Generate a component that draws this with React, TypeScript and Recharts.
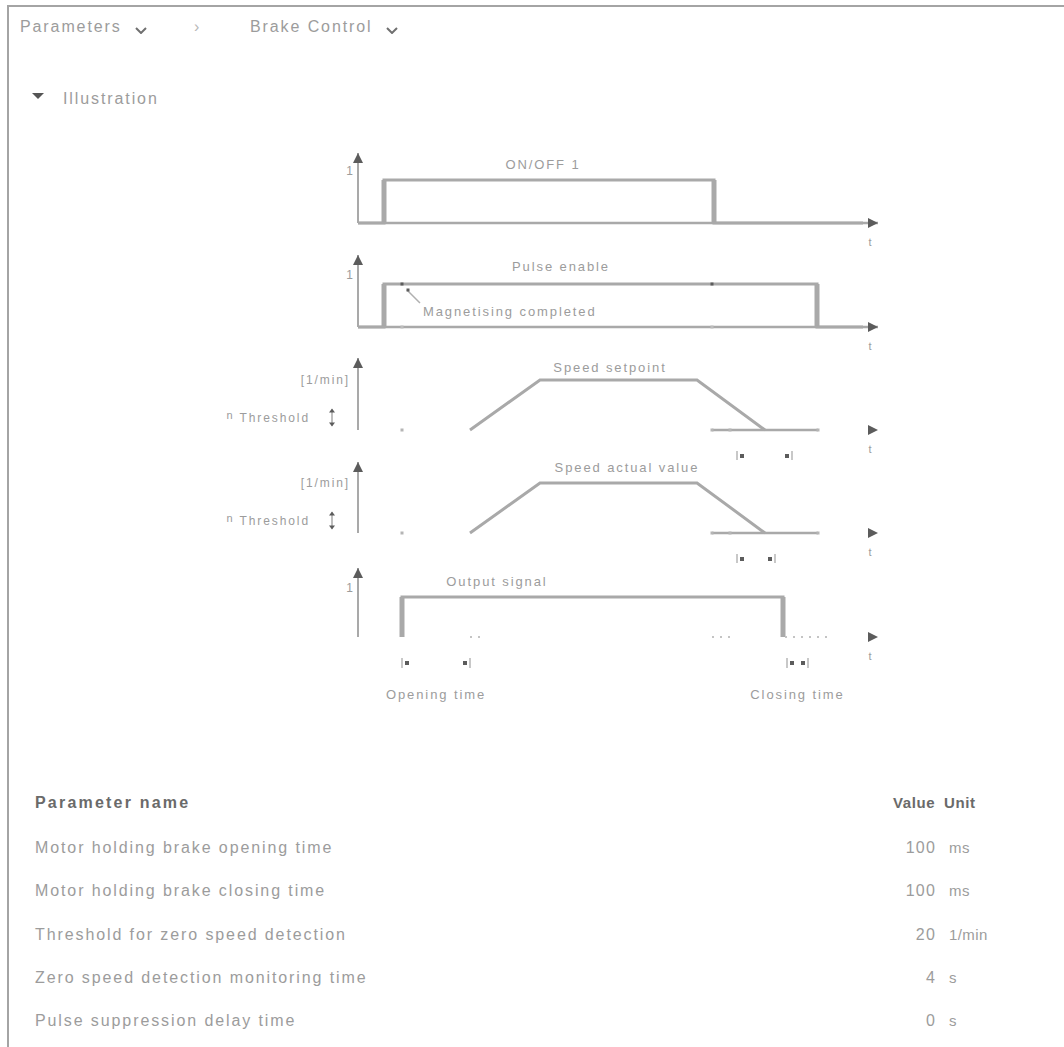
import React from 'react';
import { LineChart, Line, XAxis, YAxis, ReferenceDot, ReferenceLine } from 'recharts';

const GRAY = '#a9a9a9';
const DARK = '#5c5c5c';
const TEXT = '#9c9c9c';
const FONT = '"Liberation Sans", Arial, sans-serif';

// time runs across all five signals on one shared scale
const timeDomain = [0, 520];
const timeTicks = [512];

const onOff1 = [
    { t: 0, v: 0 },
    { t: 26, v: 1 },
    { t: 356, v: 0 },
    { t: 505, v: 0 },
];
const pulseEnable = [
    { t: 0, v: 0 },
    { t: 26, v: 1 },
    { t: 459, v: 0 },
    { t: 505, v: 0 },
];
const speedSetpoint = [
    { t: 112, v: 0 },
    { t: 182, v: 1 },
    { t: 339, v: 1 },
    { t: 407, v: 0 },
];
const speedActual = [
    { t: 112, v: 0 },
    { t: 182, v: 1 },
    { t: 339, v: 1 },
    { t: 407, v: 0 },
];
const outputSignal = [
    { t: 44, v: 0 },
    { t: 44, v: 1 },
    { t: 425, v: 0 },
];

const magnetisingDone = 44;
const holdMarks = [44, 354];
const speedThreshold = 0.25;
const thresholdWindow = [354, 460];
const setpointZeroSpan = [379, 434];
const actualZeroSpan = [379, 417];
const openingTime = [44, 112];
const closingTime = [429, 450];
const outputIdleSpans = [
    [112, 122],
    [354, 372],
    [427, 472],
];

const paramNames = [
    'Motor holding brake opening time',
    'Motor holding brake closing time',
    'Threshold for zero speed detection',
    'Zero speed detection monitoring time',
    'Pulse suppression delay time',
];
const paramValues = ['100', '100', '20', '4', '0'];
const paramUnits = ['ms', 'ms', '1/min', 's', 's'];

type Pt = { t: number; v: number };
type Cfg = { axisTop: number; baseline: number; high: number };

// where the level changes in a stepAfter series
const edgesOf = (data: Pt[]) =>
    data.slice(1).filter((p, i) => p.v !== data[i].v).map((p) => p.t);

const vAt = (c: Cfg, y: number) => (c.baseline - y) / (c.baseline - c.high);

const upArrow = (p: any) => (
    <polygon points={`${p.cx - 5},${p.cy + 10} ${p.cx},${p.cy} ${p.cx + 5},${p.cy + 10}`} fill={DARK} />
);
const rightArrow = (p: any) => (
    <polygon points={`${p.cx - 10},${p.cy - 5} ${p.cx},${p.cy} ${p.cx - 10},${p.cy + 5}`} fill={DARK} />
);
const textAt = (value: string, anchor = 'middle', size = 13) => (p: any) => (
    <text x={p.cx} y={p.cy} textAnchor={anchor} dominantBaseline="central" fontSize={size}
        letterSpacing={1.9} fill={TEXT} fontFamily={FONT}>
        {value}
    </text>
);
const smallDot = (fill: string) => (p: any) => (
    <rect x={p.cx - 1.5} y={p.cy - 1.5} width={3} height={3} fill={fill} />
);
const dimEnd = (dir: number) => (p: any) => (
    <g>
        <rect x={p.cx - 1} y={p.cy - 5} width={2} height={10} fill="#c8c8c8" />
        <rect x={p.cx + dir * 5 - 2} y={p.cy - 2} width={4} height={4} fill={DARK} />
    </g>
);

const yTick = (labels: Record<string, string>) => (p: any) => {
    const label = labels[String(p.payload.value)];
    if (label === 'n Threshold') {
        const ax = p.x - 18;
        return (
            <g>
                <text x={p.x - 40} y={p.y} textAnchor="end" dominantBaseline="central" fontSize={12}
                    letterSpacing={1.9} fill={TEXT} fontFamily={FONT}>
                    <tspan fontSize={11} dy={-3}>n</tspan>
                    <tspan dy={3}> Threshold</tspan>
                </text>
                <line x1={ax} y1={p.y - 8} x2={ax} y2={p.y + 8} stroke={GRAY} strokeWidth={1.5} />
                <polygon points={`${ax - 3},${p.y - 5} ${ax},${p.y - 9} ${ax + 3},${p.y - 5}`} fill={DARK} />
                <polygon points={`${ax - 3},${p.y + 5} ${ax},${p.y + 9} ${ax + 3},${p.y + 5}`} fill={DARK} />
            </g>
        );
    }
    const one = label === '1';
    return (
        <text x={p.x + (one ? 3 : 0)} y={p.y + (one ? -9 : 0)} textAnchor="end" dominantBaseline="central"
            fontSize={12} letterSpacing={one ? 0 : 1.9} fill={TEXT} fontFamily={FONT}>
            {label}
        </text>
    );
};

function timingChart(
    key: string,
    c: Cfg,
    data: Pt[],
    curve: 'stepAfter' | 'linear',
    showAxis: boolean,
    yLabels: Record<string, string>,
    extra: React.ReactNode[],
    bottom = 0,
) {
    const plotH = c.baseline - c.axisTop;
    const yMax = vAt(c, c.axisTop);
    return (
        <div key={key} style={{ position: 'absolute', left: 200, top: c.axisTop - 10 }}>
            <LineChart width={700} height={10 + plotH + 30 + bottom} data={data}
                margin={{ top: 10, right: 22, bottom, left: 98 }}>
                <XAxis type="number" dataKey="t" domain={timeDomain} ticks={timeTicks}
                    tickFormatter={() => 't'} tickLine={false} tickMargin={9} height={30}
                    tick={{ fill: TEXT, fontSize: 11, fontFamily: FONT }}
                    axisLine={showAxis ? { stroke: GRAY, strokeWidth: 2.5 } : false} />
                <YAxis type="number" domain={[0, yMax]} ticks={Object.keys(yLabels).map(Number)}
                    tick={yTick(yLabels)} tickLine={false} width={60}
                    axisLine={{ stroke: GRAY, strokeWidth: 2 }} />
                <Line type={curve} dataKey="v" stroke={GRAY} strokeWidth={3} dot={false}
                    isAnimationActive={false} />
                {curve === 'stepAfter' &&
                    edgesOf(data).map((t) => (
                        <ReferenceLine key={`e${t}`} segment={[{ x: t, y: 0 }, { x: t, y: 1 }]}
                            stroke={GRAY} strokeWidth={5} ifOverflow="visible" />
                    ))}
                {extra}
                <ReferenceDot x={0} y={yMax} r={1} shape={upArrow} ifOverflow="visible" />
                <ReferenceDot x={timeDomain[1]} y={0} r={1} shape={rightArrow} ifOverflow="visible" />
            </LineChart>
        </div>
    );
}

const c1 = { axisTop: 153, baseline: 223, high: 180 };
const c2 = { axisTop: 255, baseline: 327, high: 284 };
const c3 = { axisTop: 358, baseline: 430, high: 380 };
const c4 = { axisTop: 462, baseline: 533, high: 483 };
const c5 = { axisTop: 568, baseline: 637, high: 597 };

const dimSpan = (key: string, c: Cfg, span: number[]) => [
    <ReferenceDot key={`${key}a`} x={span[0]} y={vAt(c, c.baseline + 26)} r={1} shape={dimEnd(1)} ifOverflow="visible" />,
    <ReferenceDot key={`${key}b`} x={span[1]} y={vAt(c, c.baseline + 26)} r={1} shape={dimEnd(-1)} ifOverflow="visible" />,
];

const thresholdLine = (key: string) => [
    <ReferenceLine key={`${key}l`} segment={[{ x: thresholdWindow[0], y: 0 }, { x: thresholdWindow[1], y: 0 }]}
        stroke={GRAY} strokeWidth={2.5} ifOverflow="visible" />,
    ...[thresholdWindow[0], 372, thresholdWindow[1]].map((t) => (
        <ReferenceDot key={`${key}${t}`} x={t} y={0} r={1} shape={smallDot('#b5b5b5')} ifOverflow="visible" />
    )),
    <ReferenceDot key={`${key}m`} x={magnetisingDone} y={0} r={1} shape={smallDot('#b5b5b5')} ifOverflow="visible" />,
];

const Chevron = ({ left, top }: { left: number; top: number }) => (
    <svg style={{ position: 'absolute', left, top }} width={12} height={7}>
        <polyline points="1,1 6,6 11,1" stroke="#707070" strokeWidth={2} fill="none" />
    </svg>
);

const txt: React.CSSProperties = {
    position: 'absolute',
    fontSize: 16,
    lineHeight: '16px',
    letterSpacing: 1.9,
    color: TEXT,
    whiteSpace: 'nowrap',
};

export default function App() {
    const rowTops = [840, 883, 927, 970, 1013];
    return (
        <div style={{ position: 'absolute', left: 0, top: 0, width: 1064, height: 1047, overflow: 'hidden',
            background: '#fff', fontFamily: FONT }}>
            <div style={{ position: 'absolute', left: 7, top: 5, width: 1200, height: 1200,
                borderTop: '2px solid #a4a4a4', borderLeft: '2px solid #a4a4a4' }} />

            <div style={{ ...txt, left: 20, top: 19 }}>Parameters</div>
            <Chevron left={135} top={27} />
            <div style={{ ...txt, left: 194, top: 19, color: '#b8b8b8' }}>›</div>
            <div style={{ ...txt, left: 250, top: 19 }}>Brake Control</div>
            <Chevron left={386} top={27} />

            <svg style={{ position: 'absolute', left: 32, top: 93 }} width={12} height={7}>
                <polygon points="0,0 12,0 6,6" fill="#555" />
            </svg>
            <div style={{ ...txt, left: 63, top: 91 }}>Illustration</div>

            {timingChart('c1', c1, onOff1, 'stepAfter', true, { 1: '1' }, [
                <ReferenceDot key="l" x={185} y={vAt(c1, 164)} r={1} shape={textAt('ON/OFF 1')} ifOverflow="visible" />,
            ])}

            {timingChart('c2', c2, pulseEnable, 'stepAfter', true, { 1: '1' }, [
                <ReferenceDot key="l" x={203} y={vAt(c2, 266)} r={1} shape={textAt('Pulse enable')} ifOverflow="visible" />,
                ...holdMarks.flatMap((t) => [
                    <ReferenceDot key={`h${t}`} x={t} y={1} r={1} shape={smallDot(DARK)} ifOverflow="visible" />,
                    <ReferenceDot key={`b${t}`} x={t} y={0} r={1} shape={smallDot('#bdbdbd')} ifOverflow="visible" />,
                ]),
                <ReferenceLine key="lead" segment={[{ x: magnetisingDone + 5, y: vAt(c2, 290) }, { x: 62, y: vAt(c2, 303) }]}
                    stroke="#b0b0b0" strokeWidth={1.5} ifOverflow="visible" />,
                <ReferenceDot key="tip" x={magnetisingDone + 6} y={vAt(c2, 290)} r={1} shape={smallDot(DARK)} ifOverflow="visible" />,
                <ReferenceDot key="m" x={65} y={vAt(c2, 311)} r={1} shape={textAt('Magnetising completed', 'start')} ifOverflow="visible" />,
            ])}

            {timingChart('c3', c3, speedSetpoint, 'linear', false,
                { 1: '[1/min]', [speedThreshold]: 'n Threshold' }, [
                    <ReferenceDot key="l" x={252} y={vAt(c3, 367)} r={1} shape={textAt('Speed setpoint')} ifOverflow="visible" />,
                    ...thresholdLine('th'),
                    ...dimSpan('d', c3, setpointZeroSpan),
                ])}

            {timingChart('c4', c4, speedActual, 'linear', false,
                { 1: '[1/min]', [speedThreshold]: 'n Threshold' }, [
                    <ReferenceDot key="l" x={269} y={vAt(c4, 467)} r={1} shape={textAt('Speed actual value')} ifOverflow="visible" />,
                    ...thresholdLine('th'),
                    ...dimSpan('d', c4, actualZeroSpan),
                ])}

            {timingChart('c5', c5, outputSignal, 'stepAfter', false, { 1: '1' }, [
                <ReferenceDot key="l" x={139} y={vAt(c5, 581)} r={1} shape={textAt('Output signal')} ifOverflow="visible" />,
                ...outputIdleSpans.map((s, i) => (
                    <ReferenceLine key={`i${i}`} segment={[{ x: s[0], y: 0 }, { x: s[1], y: 0 }]}
                        stroke="#c4c4c4" strokeWidth={2} strokeDasharray="2 6" ifOverflow="visible" />
                )),
                ...dimSpan('o', c5, openingTime),
                ...dimSpan('c', c5, closingTime),
                <ReferenceDot key="ot" x={(openingTime[0] + openingTime[1]) / 2} y={vAt(c5, 694)} r={1}
                    shape={textAt('Opening time')} ifOverflow="visible" />,
                <ReferenceDot key="ct" x={(closingTime[0] + closingTime[1]) / 2} y={vAt(c5, 694)} r={1}
                    shape={textAt('Closing time')} ifOverflow="visible" />,
            ], 40)}

            <div style={{ ...txt, left: 35, top: 795, fontWeight: 'bold', color: '#6a6a6a', letterSpacing: 2.2 }}>
                Parameter name
            </div>
            <div style={{ ...txt, left: 893, top: 795, fontWeight: 'bold', color: '#6a6a6a', letterSpacing: 0.6, fontSize: 15 }}>
                Value
            </div>
            <div style={{ ...txt, left: 944, top: 795, fontWeight: 'bold', color: '#6a6a6a', letterSpacing: 0.6, fontSize: 15 }}>
                Unit
            </div>
            {paramNames.map((name, i) => (
                <React.Fragment key={name}>
                    <div style={{ ...txt, left: 35, top: rowTops[i] }}>{name}</div>
                    <div style={{ ...txt, right: 1064 - 936, top: rowTops[i], letterSpacing: 1.2 }}>{paramValues[i]}</div>
                    <div style={{ ...txt, left: 949, top: rowTops[i], letterSpacing: 0.4, fontSize: 15 }}>{paramUnits[i]}</div>
                </React.Fragment>
            ))}
        </div>
    );
}
